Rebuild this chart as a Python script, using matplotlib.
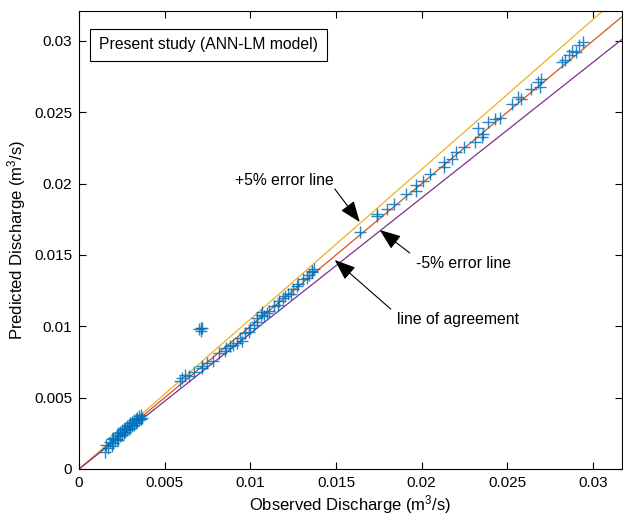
import numpy as np
import matplotlib
matplotlib.use('Agg')
import matplotlib.pyplot as plt

plt.rcParams['font.family'] = ['Liberation Sans', 'DejaVu Sans']
plt.rcParams['mathtext.default'] = 'regular'

# observed / predicted discharge (m3/s)
obs_low = [0.0015, 0.0016, 0.0017, 0.0018, 0.0019, 0.0020, 0.0020, 0.0021, 0.0022, 0.0022,
           0.0023, 0.0024, 0.0024, 0.0025, 0.0025, 0.0026, 0.0026, 0.0027, 0.0027, 0.0028,
           0.0028, 0.0029, 0.0029, 0.0030, 0.0030, 0.0031, 0.0031, 0.0032, 0.0032, 0.0033,
           0.0033, 0.0034, 0.0034, 0.0035, 0.0035, 0.0036, 0.0036, 0.0037, 0.0019, 0.0023]
pred_low = [0.0012, 0.0017, 0.0015, 0.0019, 0.0021, 0.0018, 0.0022, 0.0020, 0.0024, 0.0021,
            0.0025, 0.0023, 0.0026, 0.0024, 0.0027, 0.0025, 0.0028, 0.0026, 0.0029, 0.0027,
            0.0030, 0.0028, 0.0031, 0.0029, 0.0032, 0.0030, 0.0033, 0.0031, 0.0034, 0.0032,
            0.0035, 0.0033, 0.0036, 0.0034, 0.0037, 0.0035, 0.0038, 0.0036, 0.0016, 0.0020]

obs_mid = [0.0059, 0.0060, 0.0062, 0.0067, 0.0072, 0.0072, 0.0078, 0.0085, 0.0086, 0.0088,
           0.0090, 0.0092, 0.0095, 0.0097, 0.0099, 0.0100, 0.0104, 0.0104, 0.0106, 0.0107,
           0.0110, 0.0111, 0.0114, 0.0117, 0.0120, 0.0122, 0.0125, 0.0128, 0.0131, 0.0134,
           0.0136, 0.0137, 0.0064, 0.0075, 0.0082, 0.0094, 0.0102, 0.0108, 0.0116, 0.0119,
           0.0124, 0.0127, 0.0133, 0.0136]
pred_mid = [0.0062, 0.0064, 0.0066, 0.0068, 0.0071, 0.0072, 0.0076, 0.0083, 0.0085, 0.0086,
            0.0087, 0.0088, 0.0090, 0.0095, 0.0096, 0.0099, 0.0103, 0.0106, 0.0108, 0.0110,
            0.0109, 0.0111, 0.0114, 0.0118, 0.0121, 0.0123, 0.0126, 0.0130, 0.0133, 0.0136,
            0.0138, 0.0140, 0.0065, 0.0074, 0.0081, 0.0092, 0.0101, 0.0107, 0.0115, 0.0120,
            0.0123, 0.0128, 0.0134, 0.0139]

obs_out = [0.0070, 0.0071, 0.0071, 0.0072]
pred_out = [0.0098, 0.0099, 0.0097, 0.0099]

obs_high = [0.0164, 0.0174, 0.0174, 0.0180, 0.0184, 0.0191, 0.0197, 0.0197, 0.0201, 0.0205,
            0.0213, 0.0213, 0.0218, 0.0220, 0.0225, 0.0231, 0.0233, 0.0235, 0.0236, 0.0239,
            0.0243, 0.0246, 0.0253, 0.0256, 0.0258, 0.0264, 0.0268, 0.0269, 0.0270, 0.0282,
            0.0284, 0.0286, 0.0288, 0.0290, 0.0292, 0.0294]
pred_high = [0.0166, 0.0177, 0.0179, 0.0182, 0.0186, 0.0193, 0.0195, 0.0199, 0.0202, 0.0207,
             0.0215, 0.0212, 0.0217, 0.0222, 0.0226, 0.0229, 0.0239, 0.0233, 0.0235, 0.0243,
             0.0245, 0.0246, 0.0256, 0.0261, 0.0259, 0.0266, 0.0271, 0.0268, 0.0273, 0.0285,
             0.0287, 0.0290, 0.0293, 0.0292, 0.0297, 0.0299]

observed = np.array(obs_low + obs_mid + obs_out + obs_high)
predicted = np.array(pred_low + pred_mid + pred_out + pred_high)

ticks = [0, 0.005, 0.01, 0.015, 0.02, 0.025, 0.03]
tick_labels = ['0', '0.005', '0.01', '0.015', '0.02', '0.025', '0.03']

fig = plt.figure(figsize=(6.23, 5.22), dpi=100)
ax = fig.add_axes([79/623, 53/522, 543/623, 458/522])

xmax, ymax = 0.0317, 0.0321
xl = np.array([0, 0.04])
ax.plot(xl, xl, color='#D95319', lw=0.9)
ax.plot(xl, 1.05*xl, color='#EDB120', lw=0.9)
ax.plot(xl, 0.95*xl, color='#7E2F8E', lw=0.9)
ax.plot(observed, predicted, '+', color='#0072BD', ms=8.5, mew=1.0, alpha=0.85)

ax.set_xlim(0, xmax)
ax.set_ylim(0, ymax)
ax.set_xticks(ticks)
ax.set_xticklabels(tick_labels)
ax.set_yticks(ticks)
ax.set_yticklabels(tick_labels)
ax.tick_params(direction='in', top=True, right=True, length=5, labelsize=11, pad=5)
for s in ax.spines.values():
    s.set_linewidth(0.8)

ax.set_xlabel('Observed Discharge (m$^3$/s)', fontsize=12, labelpad=2)
ax.set_ylabel('Predicted Discharge (m$^3$/s)', fontsize=12, labelpad=4)

ax.text(0.037, 0.926, 'Present study (ANN-LM model)', transform=ax.transAxes, fontsize=11.3,
        va='center', ha='left',
        bbox=dict(boxstyle='square,pad=0.55', fc='white', ec='black', lw=0.8))

arrow = dict(arrowstyle='-|>,head_length=1.3,head_width=0.5', color='black', lw=0.8,
             shrinkA=0, shrinkB=0)
ax.annotate('', xy=(0.01639, 0.01731), xytext=(0.01493, 0.01963), arrowprops=arrow)
ax.text(0.0120, 0.0202, '+5% error line', fontsize=11.3, ha='center', va='center')
ax.annotate('', xy=(0.01756, 0.01675), xytext=(0.01931, 0.01514), arrowprops=arrow)
ax.text(0.01966, 0.01437, '-5% error line', fontsize=11.3, ha='left', va='center')
ax.annotate('', xy=(0.01493, 0.01465), xytext=(0.0182, 0.01121), arrowprops=arrow)
ax.text(0.01855, 0.01051, 'line of agreement', fontsize=11.3, ha='left', va='center')

fig.savefig('out.png', dpi=100)
